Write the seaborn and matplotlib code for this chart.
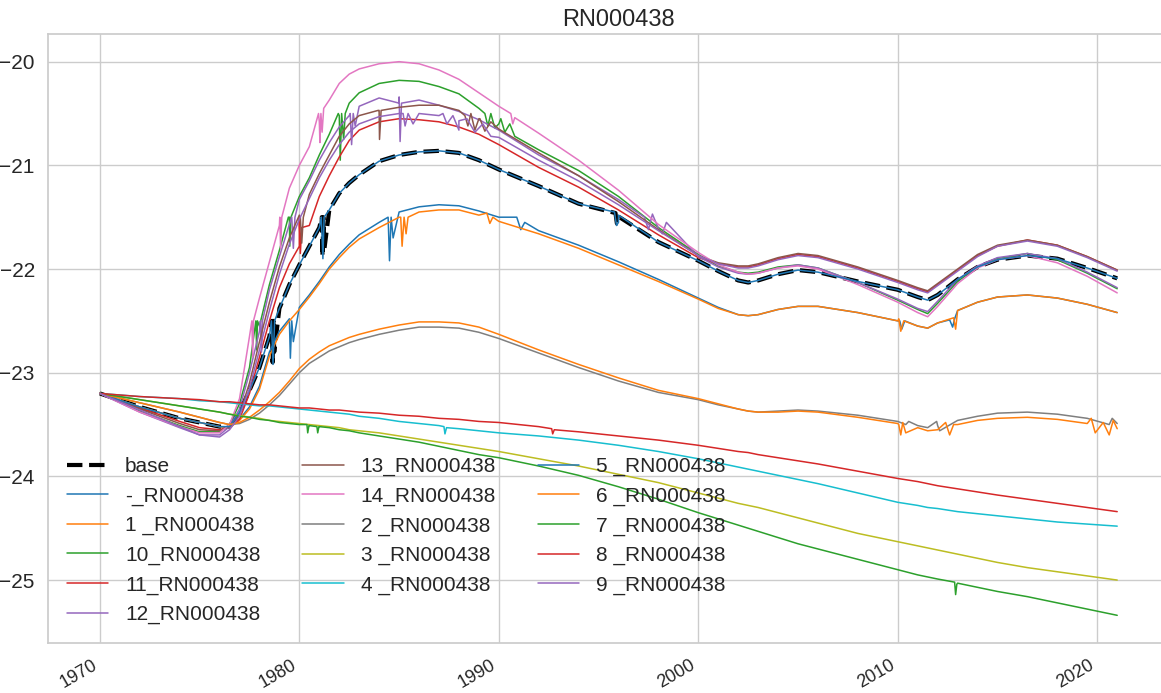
import numpy as np
import pandas as pd
import matplotlib
matplotlib.use("Agg")
import matplotlib.pyplot as plt
import matplotlib.dates as mdates
import seaborn as sns

# Sampling years (fractional) shared by every series
years = [1970, 1972, 1974, 1975, 1976, 1976.5, 1977, 1977.5, 1978, 1978.5,
         1979, 1979.5, 1980, 1980.5, 1981, 1981.5, 1982, 1982.5, 1983, 1984,
         1985, 1986, 1987, 1988, 1989, 1990, 1992, 1994, 1996, 1998,
         2000, 2001, 2002, 2002.5, 2003, 2004, 2005, 2006, 2008, 2010,
         2011, 2011.5, 2012, 2013, 2014, 2015, 2016.5, 2018, 2019.5, 2021]

base = [-23.20, -23.33, -23.44, -23.48, -23.52, -23.52, -23.38, -23.17, -22.95, -22.65,
        -22.38, -22.15, -21.96, -21.78, -21.60, -21.43, -21.27, -21.17, -21.09, -20.96,
        -20.90, -20.87, -20.86, -20.88, -20.95, -21.04, -21.20, -21.37, -21.55, -21.74,
        -21.92, -22.02, -22.11, -22.13, -22.11, -22.05, -22.01, -22.03, -22.12, -22.20,
        -22.27, -22.30, -22.25, -22.10, -21.98, -21.91, -21.87, -21.90, -21.99, -22.09]

s_minus = [-23.20, -23.33, -23.44, -23.48, -23.52, -23.53, -23.45, -23.33, -23.13, -22.80,
           -22.60, -22.48, -22.37, -22.25, -22.12, -21.98, -21.86, -21.76, -21.67, -21.55,
           -21.45, -21.40, -21.38, -21.39, -21.44, -21.50, -21.63, -21.77, -21.93, -22.10,
           -22.28, -22.37, -22.44, -22.45, -22.44, -22.39, -22.36, -22.36, -22.42, -22.50,
           -22.55, -22.57, -22.52, -22.40, -22.32, -22.27, -22.25, -22.28, -22.34, -22.42]

s01 = [-23.20, -23.33, -23.44, -23.48, -23.52, -23.53, -23.46, -23.35, -23.16, -22.84,
       -22.63, -22.50, -22.39, -22.27, -22.14, -22.00, -21.89, -21.79, -21.71, -21.60,
       -21.50, -21.45, -21.43, -21.43, -21.48, -21.54, -21.66, -21.80, -21.96, -22.12,
       -22.29, -22.38, -22.44, -22.45, -22.44, -22.39, -22.36, -22.36, -22.42, -22.50,
       -22.55, -22.57, -22.52, -22.40, -22.32, -22.27, -22.25, -22.28, -22.34, -22.42]

s10 = [-23.20, -23.37, -23.51, -23.57, -23.57, -23.50, -23.30, -22.95, -22.55, -22.15,
       -21.82, -21.50, -21.30, -21.12, -20.90, -20.70, -20.52, -20.40, -20.30, -20.21,
       -20.18, -20.19, -20.24, -20.31, -20.45, -20.60, -20.85, -21.05, -21.30, -21.60,
       -21.86, -21.97, -22.03, -22.04, -22.03, -21.98, -21.96, -21.99, -22.13, -22.30,
       -22.39, -22.43, -22.33, -22.12, -21.98, -21.90, -21.85, -21.91, -22.04, -22.19]

s11 = [-23.20, -23.34, -23.47, -23.53, -23.55, -23.52, -23.45, -23.20, -22.85, -22.50,
       -22.18, -21.95, -21.78, -21.58, -21.30, -21.10, -20.92, -20.76, -20.66, -20.58,
       -20.55, -20.56, -20.58, -20.63, -20.70, -20.80, -21.02, -21.21, -21.43, -21.67,
       -21.89, -21.95, -21.98, -21.98, -21.96, -21.90, -21.86, -21.88, -21.99, -22.12,
       -22.19, -22.22, -22.15, -22.01, -21.87, -21.78, -21.72, -21.77, -21.88, -22.01]

s12 = [-23.20, -23.38, -23.53, -23.60, -23.60, -23.52, -23.35, -23.00, -22.60, -22.20,
       -21.88, -21.57, -21.33, -21.15, -20.95, -20.78, -20.63, -20.52, -20.43, -20.35,
       -20.34, -20.37, -20.42, -20.48, -20.56, -20.66, -20.90, -21.10, -21.33, -21.61,
       -21.88, -21.98, -22.04, -22.05, -22.04, -21.99, -21.96, -21.99, -22.13, -22.29,
       -22.38, -22.41, -22.31, -22.10, -21.97, -21.89, -21.85, -21.90, -22.03, -22.18]

s13 = [-23.20, -23.35, -23.49, -23.55, -23.56, -23.52, -23.40, -23.10, -22.70, -22.32,
       -21.98, -21.70, -21.48, -21.28, -21.08, -20.90, -20.72, -20.60, -20.52, -20.47,
       -20.44, -20.42, -20.42, -20.47, -20.55, -20.65, -20.88, -21.10, -21.35, -21.62,
       -21.87, -21.94, -21.97, -21.97, -21.95, -21.89, -21.85, -21.87, -21.98, -22.11,
       -22.18, -22.21, -22.14, -22.00, -21.86, -21.77, -21.72, -21.77, -21.88, -22.01]

s14 = [-23.20, -23.38, -23.52, -23.58, -23.58, -23.50, -23.25, -22.65, -22.28, -21.93,
       -21.58, -21.22, -21.00, -20.82, -20.58, -20.37, -20.21, -20.12, -20.07, -20.02,
       -20.00, -20.02, -20.08, -20.17, -20.30, -20.43, -20.69, -20.95, -21.24, -21.57,
       -21.84, -21.96, -22.03, -22.05, -22.04, -21.99, -21.97, -22.00, -22.15, -22.32,
       -22.42, -22.46, -22.36, -22.14, -21.99, -21.91, -21.87, -21.94, -22.07, -22.23]

s02 = [-23.20, -23.29, -23.38, -23.43, -23.48, -23.50, -23.49, -23.45, -23.39, -23.31,
       -23.22, -23.11, -23.00, -22.91, -22.85, -22.79, -22.75, -22.71, -22.68, -22.63,
       -22.59, -22.56, -22.56, -22.57, -22.61, -22.67, -22.81, -22.95, -23.08, -23.19,
       -23.26, -23.31, -23.35, -23.37, -23.38, -23.37, -23.36, -23.37, -23.41, -23.47,
       -23.51, -23.53, -23.51, -23.46, -23.42, -23.39, -23.38, -23.40, -23.44, -23.49]

s03 = [-23.20, -23.26, -23.32, -23.35, -23.38, -23.40, -23.41, -23.43, -23.44, -23.46,
       -23.47, -23.48, -23.49, -23.50, -23.51, -23.52, -23.53, -23.55, -23.56, -23.58,
       -23.61, -23.64, -23.67, -23.70, -23.73, -23.76, -23.83, -23.90, -23.98, -24.06,
       -24.16, -24.21, -24.26, -24.28, -24.30, -24.35, -24.40, -24.45, -24.55, -24.63,
       -24.67, -24.69, -24.71, -24.75, -24.79, -24.83, -24.88, -24.92, -24.96, -25.00]

s04 = [-23.20, -23.23, -23.25, -23.27, -23.28, -23.29, -23.30, -23.31, -23.32, -23.32,
       -23.33, -23.34, -23.35, -23.36, -23.37, -23.38, -23.39, -23.40, -23.42, -23.44,
       -23.47, -23.49, -23.51, -23.54, -23.56, -23.58, -23.61, -23.65, -23.70, -23.76,
       -23.83, -23.87, -23.91, -23.93, -23.95, -23.99, -24.03, -24.07, -24.16, -24.25,
       -24.28, -24.30, -24.31, -24.34, -24.36, -24.38, -24.41, -24.44, -24.46, -24.48]

s05 = list(base)

s06 = [-23.20, -23.29, -23.38, -23.43, -23.48, -23.50, -23.48, -23.43, -23.36, -23.28,
       -23.19, -23.08, -22.96, -22.87, -22.80, -22.74, -22.70, -22.66, -22.63, -22.58,
       -22.54, -22.51, -22.51, -22.52, -22.56, -22.63, -22.78, -22.92, -23.05, -23.17,
       -23.25, -23.30, -23.35, -23.37, -23.38, -23.38, -23.37, -23.38, -23.43, -23.49,
       -23.53, -23.56, -23.55, -23.50, -23.46, -23.44, -23.43, -23.45, -23.49, -23.54]

s07 = [-23.20, -23.26, -23.32, -23.35, -23.38, -23.40, -23.42, -23.43, -23.45, -23.46,
       -23.48, -23.49, -23.50, -23.51, -23.52, -23.53, -23.55, -23.56, -23.58, -23.61,
       -23.64, -23.67, -23.71, -23.75, -23.79, -23.82, -23.90, -23.99, -24.10, -24.22,
       -24.35, -24.41, -24.47, -24.50, -24.53, -24.59, -24.65, -24.70, -24.80, -24.90,
       -24.95, -24.97, -24.99, -25.03, -25.07, -25.11, -25.16, -25.22, -25.28, -25.34]

s08 = [-23.20, -23.23, -23.25, -23.26, -23.28, -23.28, -23.29, -23.30, -23.31, -23.31,
       -23.32, -23.33, -23.34, -23.34, -23.35, -23.36, -23.36, -23.37, -23.38, -23.39,
       -23.41, -23.42, -23.44, -23.45, -23.47, -23.48, -23.52, -23.57, -23.61, -23.65,
       -23.70, -23.73, -23.76, -23.77, -23.79, -23.82, -23.85, -23.88, -23.95, -24.02,
       -24.05, -24.07, -24.09, -24.12, -24.15, -24.18, -24.22, -24.26, -24.30, -24.34]

s09 = [-23.20, -23.36, -23.52, -23.60, -23.62, -23.55, -23.42, -23.15, -22.78, -22.40,
       -22.05, -21.76, -21.52, -21.32, -21.12, -20.95, -20.80, -20.68, -20.60, -20.53,
       -20.50, -20.50, -20.52, -20.57, -20.64, -20.73, -20.95, -21.15, -21.38, -21.63,
       -21.87, -21.95, -21.99, -21.99, -21.97, -21.91, -21.87, -21.89, -22.00, -22.13,
       -22.20, -22.23, -22.16, -22.02, -21.88, -21.78, -21.73, -21.78, -21.89, -22.02]

# Short glitches recorded in individual series: (year, value)
glitches = {
    "base": [(1978.62, -22.50), (1978.66, -22.90), (1978.70, -22.50), (1978.74, -22.80),
             (1981.12, -21.50), (1981.16, -21.88), (1981.20, -21.50), (1981.26, -21.80),
             (1995.85, -21.46), (1995.92, -21.56), (1996.05, -21.50)],
    "-_RN000438": [(1979.42, -22.50), (1979.55, -22.86), (1979.62, -22.50), (1979.70, -22.70),
                   (1984.45, -21.50), (1984.52, -21.92), (1984.60, -21.50), (1984.70, -21.70),
                   (1990.9, -21.50), (1991.1, -21.62), (1991.3, -21.55),
                   (2010.10, -22.50), (2010.20, -22.58), (2010.35, -22.50),
                   (2012.60, -22.49), (2012.75, -22.56), (2012.85, -22.48)],
    "1 _RN000438": [(1985.08, -21.50), (1985.15, -21.78), (1985.25, -21.50), (1985.35, -21.66),
                    (1985.45, -21.50), (1989.40, -21.46), (1989.55, -21.56), (1989.70, -21.50),
                    (2010.05, -22.48), (2010.15, -22.60), (2010.30, -22.50),
                    (2012.80, -22.47), (2012.90, -22.58)],
    "10_RN000438": [(1977.82, -22.50), (1977.86, -22.78), (1977.90, -22.50),
                    (1979.45, -21.50), (1979.52, -21.78), (1979.58, -21.50),
                    (1981.95, -20.50), (1982.05, -20.95), (1982.12, -20.50), (1982.22, -20.75),
                    (1982.30, -20.50),
                    (1989.30, -20.50), (1989.45, -20.62), (1989.60, -20.50), (1989.80, -20.64),
                    (1990.10, -20.55), (1990.30, -20.68), (1990.55, -20.60), (1990.80, -20.72)],
    "11_RN000438": [(1980.00, -21.50), (1980.05, -21.85), (1980.12, -21.60)],
    "12_RN000438": [(1978.05, -22.50), (1978.10, -22.80), (1978.15, -22.50),
                    (1979.62, -21.50), (1979.70, -21.80), (1979.78, -21.50),
                    (1982.55, -20.50), (1982.62, -20.80), (1982.70, -20.50), (1982.80, -20.62),
                    (1985.00, -20.40), (1985.05, -20.77), (1985.12, -20.40),
                    (1997.30, -21.50), (1997.50, -21.62), (1997.70, -21.47), (1998.20, -21.66),
                    (1998.40, -21.55)],
    "13_RN000438": [(1980.05, -21.50), (1980.12, -21.75), (1980.20, -21.50),
                    (1983.95, -20.47), (1984.02, -20.75), (1984.10, -20.47),
                    (1988.30, -20.52), (1988.45, -20.62), (1988.60, -20.50), (1988.80, -20.66),
                    (1989.05, -20.55), (1989.30, -20.67), (1989.60, -20.58)],
    "14_RN000438": [(1977.62, -22.50), (1977.66, -22.85), (1977.70, -22.50),
                    (1979.02, -21.50), (1979.06, -21.80), (1979.12, -21.50),
                    (1980.96, -20.50), (1981.03, -20.78), (1981.08, -20.50), (1981.14, -20.68),
                    (1981.22, -20.45),
                    (1990.60, -20.50), (1990.70, -20.60), (1990.80, -20.54)],
    "2 _RN000438": [(2010.40, -23.50), (2010.55, -23.47), (2011.95, -23.47), (2012.10, -23.56),
                    (2020.60, -23.50), (2020.75, -23.44)],
    "4 _RN000438": [(1987.25, -23.52), (1987.30, -23.59), (1987.38, -23.53)],
    "5 _RN000438": [(1978.60, -22.50), (1978.68, -22.92), (1978.76, -22.50),
                    (1981.10, -21.50), (1981.18, -21.90), (1981.24, -21.50),
                    (1995.80, -21.45), (1995.90, -21.58), (1996.00, -21.48)],
    "6 _RN000438": [(2010.05, -23.50), (2010.15, -23.60), (2010.25, -23.48), (2010.40, -23.58),
                    (2012.40, -23.48), (2012.60, -23.60), (2012.80, -23.50),
                    (2019.70, -23.44), (2019.90, -23.58), (2020.30, -23.48), (2020.60, -23.60),
                    (2020.80, -23.46)],
    "7 _RN000438": [(1980.38, -23.50), (1980.42, -23.58), (1980.48, -23.51),
                    (1980.88, -23.52), (1980.92, -23.58), (1980.98, -23.52),
                    (2012.85, -25.02), (2012.90, -25.14), (2012.96, -25.04)],
    "8 _RN000438": [(1992.65, -23.54), (1992.70, -23.59), (1992.78, -23.55)],
    "9 _RN000438": [(1985.20, -20.50), (1985.30, -20.62), (1985.45, -20.50), (1985.70, -20.60),
                    (1987.20, -20.50), (1987.40, -20.60), (1987.70, -20.52), (1988.00, -20.66),
                    (1988.40, -20.55), (1988.80, -20.68), (1989.20, -20.60), (1989.60, -20.72)],
}

labels = ["-_RN000438", "1 _RN000438", "10_RN000438", "11_RN000438", "12_RN000438",
          "13_RN000438", "14_RN000438", "2 _RN000438", "3 _RN000438", "4 _RN000438",
          "5 _RN000438", "6 _RN000438", "7 _RN000438", "8 _RN000438", "9 _RN000438"]
series = [s_minus, s01, s10, s11, s12, s13, s14, s02, s03, s04, s05, s06, s07, s08, s09]

# Time window of the record set (x-axis limits)
x_range = (1967.4, 2024.6)


def year_to_date(y):
    yr = int(np.floor(y))
    start = pd.Timestamp(year=yr, month=1, day=1)
    end = pd.Timestamp(year=yr + 1, month=1, day=1)
    return start + (end - start) * (y - yr)


def assemble(values, extra):
    pts = sorted(list(zip(years, values)) + list(extra))
    return pd.DataFrame({"date": [year_to_date(t) for t, _ in pts],
                         "value": [v for _, v in pts]})


sns.set_theme(style="whitegrid")
plt.rcParams["font.family"] = ["Liberation Sans", "DejaVu Sans"]

W, H = 1161, 693
fig = plt.figure(figsize=(W / 100, H / 100), dpi=100)
ax = fig.add_axes([48 / W, (H - 643) / H, 1141 / W, 609 / H])

palette = sns.color_palette("tab10")

df = assemble(base, glitches["base"])
sns.lineplot(data=df, x="date", y="value", ax=ax, color="black", linestyle="--",
             linewidth=3, label="base", estimator=None)

for i, (lab, vals) in enumerate(zip(labels, series)):
    df = assemble(vals, glitches.get(lab, []))
    sns.lineplot(data=df, x="date", y="value", ax=ax, color=palette[i % 10],
                 linewidth=1.1, label=lab, estimator=None)

ax.set_xlim(year_to_date(x_range[0]), year_to_date(x_range[1]))
ax.set_title("RN000438", fontsize=17)
ax.set_xlabel("")
ax.set_ylabel("")
ax.xaxis.set_major_locator(mdates.YearLocator(10))
ax.xaxis.set_major_formatter(mdates.DateFormatter("%Y"))
ax.tick_params(axis="y", labelsize=15)
ax.tick_params(axis="x", labelsize=13)
for lbl in ax.get_xticklabels():
    lbl.set_rotation(30)
    lbl.set_horizontalalignment("right")

ax.legend(loc="lower left", ncol=3, frameon=False, fontsize=15,
          labelspacing=0.5, handlelength=2.0)

fig.savefig("out.png", dpi=100)
